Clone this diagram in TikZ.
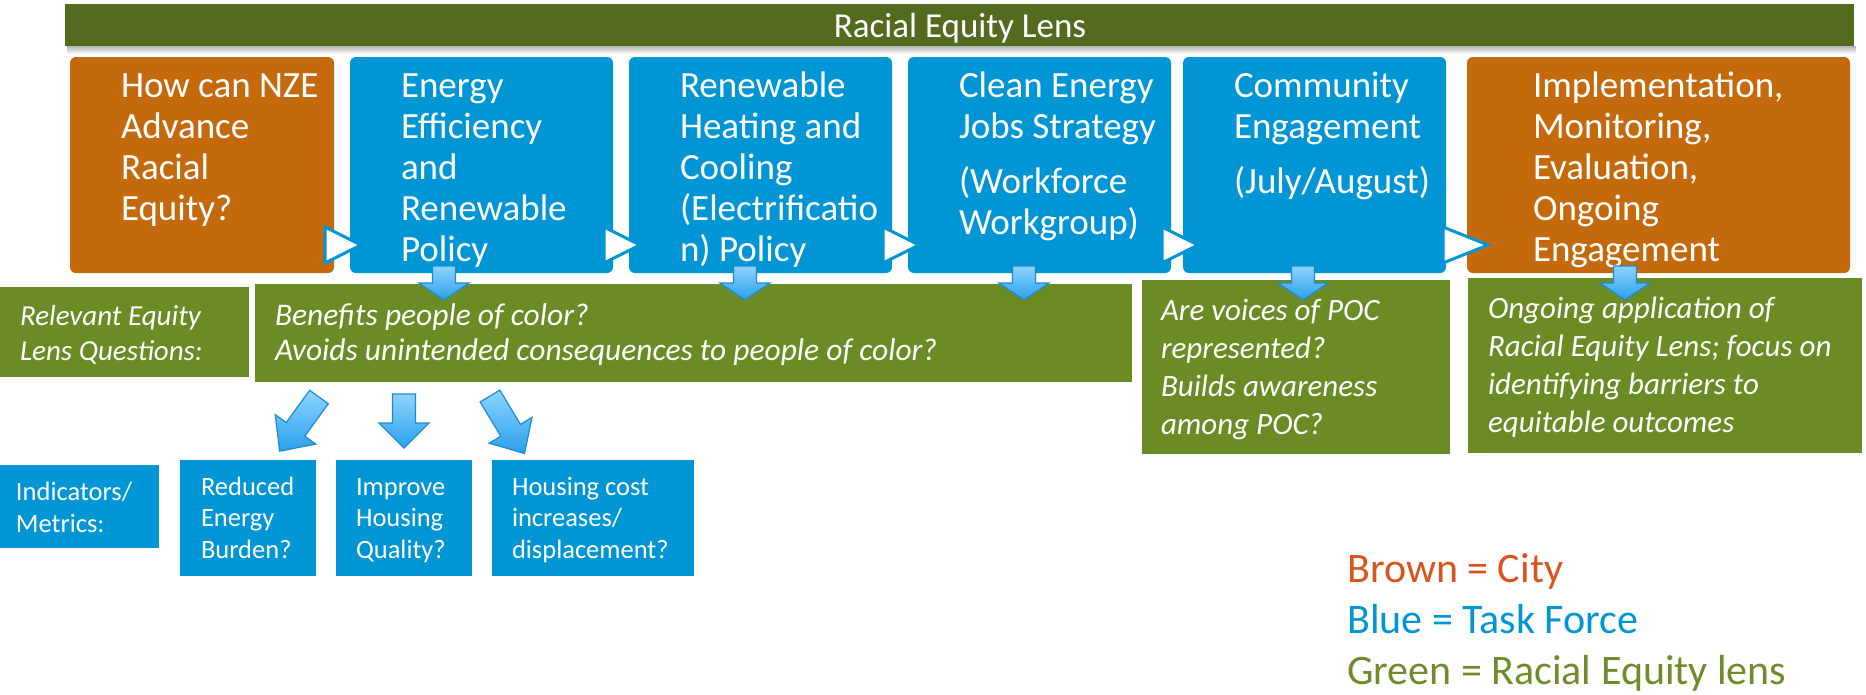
\documentclass[tikz,border=0pt]{standalone}
\usepackage{fontspec}
\setmainfont{Carlito}
\definecolor{cbrown}{HTML}{C56A0C}
\definecolor{cblue}{HTML}{0096D6}
\definecolor{cgreen}{HTML}{6B8B24}
\definecolor{cbanner}{HTML}{536A1F}
\definecolor{arrowtop}{HTML}{8ED4FF}
\definecolor{arrowbot}{HTML}{2AA0EC}
\definecolor{arrowline}{HTML}{1E8AD6}
\definecolor{legbrown}{HTML}{D9531E}
\definecolor{leggreen}{HTML}{6E8C2A}
\tikzset{
  box/.style={anchor=north west, inner sep=0pt, outer sep=0pt},
  rbox/.style={box, rounded corners=6pt},
  txt/.style={anchor=north west, inner sep=0pt, outer sep=0pt, align=left, text=white},
  bigtxt/.style={txt, font=\fontsize{37}{41}\selectfont},
  grtxt/.style={txt, font=\fontsize{31.5}{35}\selectfont\itshape},
  smtxt/.style={txt, font=\fontsize{26.5}{31.5}\selectfont},
  legtxt/.style={anchor=north west, inner sep=0pt, align=left, font=\fontsize{42}{51}\selectfont},
  barrow/.style={draw=arrowline, line width=1.2pt, top color=arrowtop, bottom color=arrowbot, line join=miter},
  tri/.style={draw=cblue, line width=3pt, fill=white, line join=miter},
}
\newcommand\blockarrow[5]{%
  \begin{scope}[shift={(#1,#2)},rotate=#3]
    \draw[barrow] (-11.5,0) -- (11.5,0) -- (11.5,#4) -- (25,#4) -- (0,#4+#5) -- (-25,#4) -- (-11.5,#4) -- cycle;
  \end{scope}}
\newcommand\flowtri[2]{\draw[tri] (#1,227) -- (#2,245) -- (#1,263) -- cycle;}
\begin{document}
\begin{tikzpicture}[x=1pt,y=-1pt]
\useasboundingbox (0,0) rectangle (1866,694);
% banner
\fill[top color=black!30, bottom color=white] (67,46) rectangle (1856,54);
\node[box, fill=cbanner, minimum width=1789pt, minimum height=42pt] (ban) at (65,4) {};
\node[anchor=base, inner sep=0pt, text=white, font=\fontsize{35}{40}\selectfont] (bant) at (960,37) {Racial Equity Lens};
% top boxes
\node[rbox, fill=cbrown, minimum width=264pt, minimum height=216pt] (b1) at (70,57) {};
\node[rbox, fill=cblue, minimum width=263pt, minimum height=216pt] (b2) at (350,57) {};
\node[rbox, fill=cblue, minimum width=263pt, minimum height=216pt] (b3) at (629,57) {};
\node[rbox, fill=cblue, minimum width=263pt, minimum height=216pt] (b4) at (908,57) {};
\node[rbox, fill=cblue, minimum width=263pt, minimum height=216pt] (b5) at (1183,57) {};
\node[rbox, fill=cbrown, minimum width=383pt, minimum height=216pt] (b6) at (1467,57) {};
\node[bigtxt] (t1) at (121,68.3) {\strut How can NZE\\Advance\\Racial\\Equity?};
\node[bigtxt] (t2) at (401,68.3) {\strut Energy\\Efficiency\\and\\Renewable\\Policy};
\node[bigtxt] (t3) at (680,68.3) {\strut Renewable\\Heating and\\Cooling\\(Electrificatio\\n) Policy};
\node[bigtxt] (t4) at (959,68.3) {\strut Clean Energy\\Jobs Strategy\\[14pt](Workforce\\Workgroup)};
\node[bigtxt] (t5) at (1234,68.3) {\strut Community\\Engagement\\[14pt](July/August)};
\node[bigtxt] (t6) at (1533,68.3) {\strut Implementation,\\Monitoring,\\Evaluation,\\Ongoing\\Engagement};
% flow triangles
\flowtri{325}{361}
\flowtri{604}{640}
\flowtri{883}{919}
\flowtri{1162}{1198}
\flowtri{1443}{1488}
% green boxes
\node[box, fill=cgreen, minimum width=249pt, minimum height=90pt] (g0) at (0,287) {};
\node[box, fill=cgreen, minimum width=877pt, minimum height=98pt] (g1) at (255,284) {};
\node[box, fill=cgreen, minimum width=308pt, minimum height=174pt] (g2) at (1142,280) {};
\node[box, fill=cgreen, minimum width=394pt, minimum height=175pt] (g3) at (1468,278) {};
\node[txt, font=\fontsize{29}{35}\selectfont\itshape] (gt0) at (20,300.5) {\strut Relevant Equity\\Lens Questions:};
\node[grtxt] (gt1) at (275,300.5) {\strut Benefits people of color?\\Avoids unintended consequences to people of color?};
\node[txt, font=\fontsize{31}{38.2}\selectfont\itshape] (gt2) at (1161,293.3) {\strut Are voices of POC\\represented?\\Builds awareness\\among POC?};
\node[txt, font=\fontsize{31}{38}\selectfont\itshape] (gt3) at (1488,291.4) {\strut Ongoing application of\\Racial Equity Lens; focus on\\identifying barriers to\\equitable outcomes};
% down arrows from top boxes
\blockarrow{444}{266}{0}{17}{17}
\blockarrow{745}{266}{0}{17}{17}
\blockarrow{1024}{266}{0}{17}{17}
\blockarrow{1303}{266}{0}{17}{17}
\blockarrow{1625}{266}{0}{17}{17}
% metric boxes
\node[box, fill=cblue, minimum width=159pt, minimum height=83pt] (m0) at (0,465) {};
\node[box, fill=cblue, minimum width=136pt, minimum height=116pt] (m1) at (180,460) {};
\node[box, fill=cblue, minimum width=136pt, minimum height=116pt] (m2) at (336,460) {};
\node[box, fill=cblue, minimum width=202pt, minimum height=116pt] (m3) at (492,460) {};
\node[txt, font=\fontsize{26.5}{32}\selectfont] (mt0) at (16,477.6) {\strut Indicators/\\Metrics:};
\node[smtxt] (mt1) at (201,473) {\strut Reduced\\Energy\\Burden?};
\node[smtxt] (mt2) at (356,473) {\strut Improve\\Housing\\Quality?};
\node[smtxt] (mt3) at (512,473) {\strut Housing cost\\increases/\\displacement?};
% diagonal arrows
\blockarrow{319}{397}{-36}{40}{27}
\blockarrow{404}{394}{0}{29}{25}
\blockarrow{490}{396}{31}{40}{27}
% legend
\node[legtxt] (leg) at (1347,546.3) {\strut\textcolor{legbrown}{Brown = City}\\\textcolor{cblue}{Blue = Task Force}\\\textcolor{leggreen}{Green = Racial Equity lens}};
\end{tikzpicture}
\end{document}
